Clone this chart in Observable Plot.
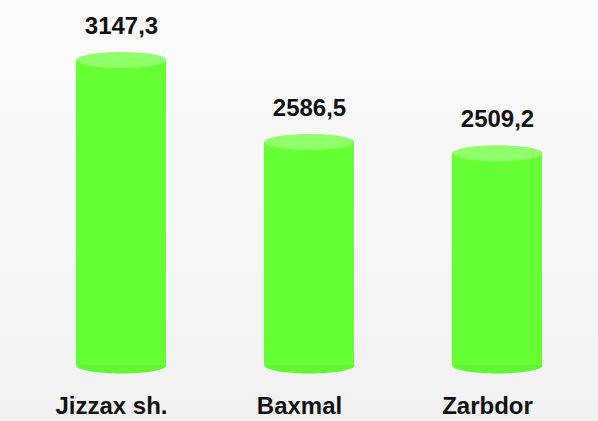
<!DOCTYPE html>
<html>
<head>
<meta charset="utf-8">
<script src="https://cdn.jsdelivr.net/npm/d3@7"></script>
<script src="https://cdn.jsdelivr.net/npm/@observablehq/plot@0.6"></script>
<style>
  html, body { margin: 0; padding: 0; background: linear-gradient(#fbfbfb, #f1f1f1); }
  #chart svg { display: block; background: transparent; }
</style>
</head>
<body>
<div id="chart"></div>
<script>
const categories = ["Jizzax sh.", "Baxmal", "Zarbdor"];
const values = [3147.3, 2586.5, 2509.2];
const labels = ["3147,3", "2586,5", "2509,2"];

const baseline = 1060;
const data = categories.map((c, i) => ({cat: c, value: values[i], label: labels[i], base: baseline}));

// ellipse symbol for the cylinder caps
const capSymbol = {
  draw(context, size) {
    const rx = 45, ry = 8, k = 0.5523;
    context.moveTo(-rx, 0);
    context.bezierCurveTo(-rx, -ry * k, -rx * k, -ry, 0, -ry);
    context.bezierCurveTo(rx * k, -ry, rx, -ry * k, rx, 0);
    context.bezierCurveTo(rx, ry * k, rx * k, ry, 0, ry);
    context.bezierCurveTo(-rx * k, ry, -rx, ry * k, -rx, 0);
    context.closePath();
  }
};

const chart = Plot.plot({
  width: 598,
  height: 421,
  marginTop: 40,
  marginBottom: 56,
  marginLeft: 75,
  marginRight: 56,
  style: {fontFamily: "Arial, 'Liberation Sans', sans-serif", background: "transparent"},
  x: {domain: categories, paddingInner: 0.5225, paddingOuter: 0, label: null},
  y: {domain: [baseline, 3280], axis: null},
  marks: [
    Plot.dot(data, {x: "cat", y: "base", symbol: capSymbol, r: 10, fill: "#62f533", stroke: "none"}),
    Plot.barY(data, {x: "cat", y1: "base", y2: "value", fill: "#66ff33"}),
    Plot.dot(data, {x: "cat", y: "value", symbol: capSymbol, r: 10, fill: "#90ff6c", stroke: "none"}),
    Plot.text(data, {x: "cat", y: "value", text: "label", dy: -34, fontSize: 24, fontWeight: "bold", fill: "#111"}),
    Plot.axisX({tickSize: 0, tickPadding: 31, dx: -10, fontSize: 24, fontWeight: "bold", color: "#111", label: null})
  ]
});
document.getElementById("chart").append(chart);
</script>
</body>
</html>
